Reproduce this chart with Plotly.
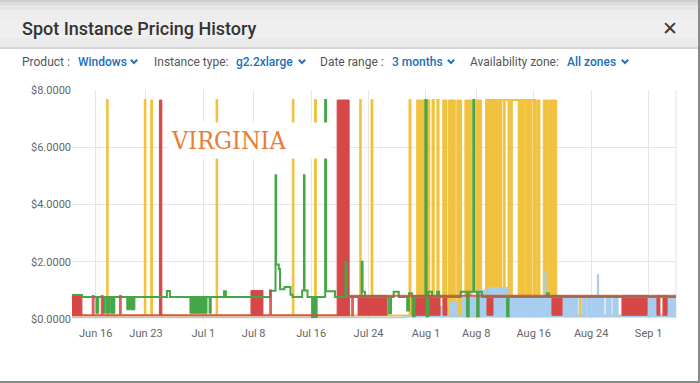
import plotly.graph_objects as go

# ---------------- data ----------------
X_RANGE = ["2018-06-12 16:45", "2018-09-04 19:40"]
TICK_VALS = ["2018-06-16", "2018-06-23", "2018-07-01", "2018-07-08", "2018-07-16", "2018-07-24",
             "2018-08-01", "2018-08-08", "2018-08-16", "2018-08-24", "2018-09-01"]
TICK_TEXT = ["Jun 16", "Jun 23", "Jul 1", "Jul 8", "Jul 16", "Jul 24",
             "Aug 1", "Aug 8", "Aug 16", "Aug 24", "Sep 1"]
Y_TICKS = [0, 2, 4, 6, 8]
Y_TICK_TEXT = ["$0.0000", "$2.0000", "$4.0000", "$6.0000", "$8.0000"]

# yellow zone
YEL_T = ["2018-06-12 16:00",
         "2018-06-17 14:00", "2018-06-17 16:00",
         "2018-06-22 20:00", "2018-06-22 22:00",
         "2018-07-02 20:00", "2018-07-02 22:00",
         "2018-07-13 11:00", "2018-07-13 13:00",
         "2018-07-16 13:00", "2018-07-16 16:00",
         "2018-07-22 20:00", "2018-07-22 22:00",
         "2018-07-24 10:00", "2018-07-24 13:00",
         "2018-07-29 17:00", "2018-07-29 20:00",
         "2018-08-01 22:00", "2018-08-02 02:00",
         "2018-08-02 14:00", "2018-08-02 18:00",
         "2018-08-09 09:00",
         "2018-08-10 18:00", "2018-08-10 20:00",
         "2018-08-11 02:00", "2018-08-11 04:00",
         "2018-08-11 10:00", "2018-08-11 12:00",
         "2018-08-11 21:00", "2018-08-11 23:00",
         "2018-08-12 12:00", "2018-08-12 14:00",
         "2018-08-12 21:00", "2018-08-12 23:00",
         "2018-08-16 05:00",
         "2018-08-22 11:00", "2018-08-22 13:00",
         "2018-09-04 20:00"]
YEL_V = [0.12,
         7.65, 0.12,
         7.65, 0.12,
         7.65, 0.12,
         7.65, 0.12,
         7.65, 0.12,
         7.65, 0.12,
         7.65, 0.12,
         7.65, 0.12,
         7.65, 0.12,
         7.65, 0.12,
         7.65,
         0.12, 7.65,
         0.12, 7.65,
         0.12, 7.65,
         0.12, 7.65,
         0.12, 7.65,
         0.12, 7.65,
         0.12,
         0.80, 0.12,
         0.12]
YEL_BLOCKS = [("2018-06-23 16:00", "2018-06-23 22:00", 0.12, 7.65),
              ("2018-07-30 17:00", "2018-07-31 20:00", 0.12, 7.65),
              ("2018-08-01 02:00", "2018-08-01 13:00", 0.12, 7.65),
              ("2018-08-03 08:00", "2018-08-03 22:00", 0.12, 7.65),
              ("2018-08-04 03:00", "2018-08-05 02:00", 0.12, 7.65),
              ("2018-08-05 07:00", "2018-08-05 23:00", 0.12, 7.65),
              ("2018-08-06 10:00", "2018-08-07 09:00", 0.12, 7.65),
              ("2018-08-08 01:00", "2018-08-08 18:00", 0.12, 7.65),
              ("2018-08-09 09:00", "2018-08-10 15:00", 0.12, 7.65),
              ("2018-08-13 20:00", "2018-08-14 20:00", 0.12, 7.65),
              ("2018-08-15 00:00", "2018-08-15 18:00", 0.12, 7.65),
              ("2018-08-15 22:00", "2018-08-16 05:00", 0.12, 7.65),
              ("2018-08-16 10:00", "2018-08-16 21:00", 0.12, 7.65),
              ("2018-08-17 08:00", "2018-08-18 01:00", 0.12, 7.65),
              ("2018-08-18 05:00", "2018-08-19 05:00", 0.12, 7.65)]

# light-blue zone
BLU_T = ["2018-06-12 16:00", "2018-07-29 00:00",
         "2018-08-17 14:00", "2018-08-17 16:00",
         "2018-08-24 22:00", "2018-08-25 00:00",
         "2018-09-04 20:00"]
BLU_V = [0.05, 0.08,
         1.66, 0.08,
         1.54, 0.08,
         0.08]
BLU_BLOCKS = [("2018-08-02 23:00", "2018-08-03 22:00", 0.08, 0.45),
              ("2018-08-04 08:00", "2018-08-05 08:00", 0.08, 0.60),
              ("2018-08-06 01:00", "2018-08-07 22:00", 0.08, 0.80),
              ("2018-08-08 03:00", "2018-08-09 09:00", 0.08, 1.00),
              ("2018-08-09 15:00", "2018-08-12 10:00", 0.08, 1.10),
              ("2018-08-12 10:00", "2018-08-15 10:00", 0.08, 0.82),
              ("2018-08-15 10:00", "2018-08-18 13:00", 0.08, 0.80),
              ("2018-08-20 02:00", "2018-08-22 04:00", 0.08, 0.82),
              ("2018-08-22 18:00", "2018-08-23 07:00", 0.08, 0.82),
              ("2018-08-23 10:00", "2018-08-24 00:00", 0.08, 0.82),
              ("2018-08-24 03:00", "2018-08-24 20:00", 0.08, 0.82),
              ("2018-08-25 03:00", "2018-08-25 19:00", 0.08, 0.82),
              ("2018-08-26 02:00", "2018-08-26 19:00", 0.08, 0.82),
              ("2018-08-27 01:00", "2018-08-27 18:00", 0.08, 0.82),
              ("2018-08-31 19:00", "2018-09-02 04:00", 0.08, 0.80),
              ("2018-09-03 14:00", "2018-09-04 20:00", 0.08, 0.75)]

# red zone
RED_T = ["2018-06-12 16:00",
         "2018-06-15 14:00", "2018-06-15 17:00",
         "2018-06-16 20:00", "2018-06-16 23:00",
         "2018-06-19 09:00", "2018-06-19 12:00",
         "2018-07-10 07:00", "2018-07-10 10:00",
         "2018-07-21 07:00",
         "2018-07-21 17:00", "2018-07-21 20:00",
         "2018-09-04 20:00"]
RED_V = [0.13,
         0.80, 0.13,
         0.80, 0.13,
         0.80, 0.13,
         1.00, 0.13,
         0.81,
         0.13, 0.81,
         0.81]
RED_BLOCKS = [("2018-06-12 16:00", "2018-06-14 02:00", 0.13, 0.85),
              ("2018-06-24 21:00", "2018-06-25 05:00", 0.13, 7.65),
              ("2018-07-07 15:00", "2018-07-09 07:00", 0.13, 1.00),
              ("2018-07-19 15:00", "2018-07-21 07:00", 0.13, 7.65),
              ("2018-07-22 13:00", "2018-07-26 14:00", 0.13, 0.81),
              ("2018-07-30 01:00", "2018-08-02 23:00", 0.13, 0.81),
              ("2018-08-03 09:00", "2018-08-03 22:00", 0.13, 0.81),
              ("2018-08-09 12:00", "2018-08-10 08:00", 0.13, 0.81),
              ("2018-08-18 13:00", "2018-08-19 23:00", 0.13, 0.81),
              ("2018-08-28 07:00", "2018-08-31 19:00", 0.13, 0.81),
              ("2018-09-02 04:00", "2018-09-02 14:00", 0.13, 0.81),
              ("2018-09-03 00:00", "2018-09-03 14:00", 0.13, 0.81)]

# green zone
GRN_T = ["2018-06-12 16:00", "2018-06-14 02:00",
         "2018-06-25 22:00", "2018-06-26 08:00",
         "2018-07-03 21:00", "2018-07-04 03:00",
         "2018-07-10 07:00", "2018-07-11 01:00", "2018-07-11 03:00", "2018-07-11 12:00",
         "2018-07-11 16:00", "2018-07-12 07:00", "2018-07-13 03:00", "2018-07-13 10:00",
         "2018-07-14 18:00", "2018-07-15 00:00", "2018-07-15 02:00", "2018-07-15 12:00",
         "2018-07-17 23:00", "2018-07-18 02:00", "2018-07-19 08:00",
         "2018-07-20 19:00", "2018-07-20 22:00",
         "2018-07-23 01:00", "2018-07-23 04:00", "2018-07-23 12:00",
         "2018-07-26 20:00", "2018-07-27 03:00",
         "2018-07-27 12:00", "2018-07-28 05:00",
         "2018-07-29 09:00", "2018-07-29 15:00", "2018-07-30 01:00",
         "2018-07-30 05:00", "2018-07-30 10:00",
         "2018-07-31 22:00", "2018-08-01 02:00", "2018-08-01 08:00", "2018-08-01 20:00",
         "2018-08-02 13:00", "2018-08-02 20:00",
         "2018-08-05 20:00", "2018-08-06 17:00", "2018-08-06 23:00",
         "2018-08-07 14:00", "2018-08-07 18:00", "2018-08-08 03:00", "2018-08-08 08:00",
         "2018-08-08 19:00",
         "2018-08-12 07:00", "2018-08-12 12:00",
         "2018-08-17 20:00", "2018-08-18 02:00",
         "2018-09-04 20:00"]
GRN_V = [0.84, 0.77,
         0.98, 0.77,
         0.97, 0.77,
         0.99, 5.02, 1.90, 1.75,
         1.04, 1.12, 0.85, 0.77,
         1.00, 5.02, 1.00, 0.77,
         7.65, 0.97, 0.77,
         2.00, 0.77,
         2.00, 0.95, 0.77,
         0.20, 0.77,
         0.95, 0.77,
         0.30, 0.90, 0.77,
         0.10, 0.77,
         7.65, 0.10, 0.95, 0.77,
         0.95, 0.77,
         0.95, 0.10, 0.95,
         7.65, 0.95, 0.10, 0.95,
         0.77,
         0.10, 0.77,
         0.90, 0.77,
         0.77]
GRN_BLOCKS = [("2018-06-16 01:00", "2018-06-16 10:00", 0.20, 0.77),
              ("2018-06-17 00:00", "2018-06-17 08:00", 0.20, 0.77),
              ("2018-06-17 12:00", "2018-06-17 22:00", 0.20, 0.77),
              ("2018-06-18 02:00", "2018-06-18 16:00", 0.20, 0.77),
              ("2018-06-20 08:00", "2018-06-21 11:00", 0.32, 0.77),
              ("2018-06-29 03:00", "2018-07-01 12:00", 0.20, 0.77),
              ("2018-07-01 19:00", "2018-07-02 02:00", 0.20, 0.77),
              ("2018-07-16 02:00", "2018-07-16 20:00", 0.05, 0.77)]

ANNOT_TEXT = "VIRGINIA"

# ---------------- styling ----------------
C_RED = "#d64848"
C_GRN = "#45a748"
C_YEL = "#f1c23e"
C_BLU = "#a8cdee"

W, H = 700, 383
ML, MR, MT, MB = 72, 24, 90, 64


def px(x):
    return (x - ML) / (W - ML - MR)


def py(y):
    return (H - MB - y) / (H - MT - MB)


def band_xy(blocks):
    xs, ys = [], []
    for s, e, lo, hi in blocks:
        xs += [s, e, e, s, s, None]
        ys += [lo, lo, hi, hi, lo, None]
    return xs, ys


fig = go.Figure()


def add_blocks(blocks, color):
    bx, by = band_xy(blocks)
    fig.add_trace(go.Scatter(x=bx, y=by, mode="lines", fill="toself", fillcolor=color,
                             line=dict(color=color, width=1), hoverinfo="skip"))


def add_line(t, v, color, width, opacity=1.0):
    fig.add_trace(go.Scatter(x=t, y=v, mode="lines", opacity=opacity,
                             line=dict(color=color, width=width, shape="hv"), hoverinfo="skip"))


add_blocks(YEL_BLOCKS, C_YEL)
add_line(YEL_T, YEL_V, C_YEL, 2)
add_blocks(BLU_BLOCKS, C_BLU)
add_line(BLU_T, BLU_V, C_BLU, 1.6)
add_blocks(RED_BLOCKS, C_RED)
add_blocks(GRN_BLOCKS, C_GRN)
add_line(GRN_T, GRN_V, C_GRN, 2)
add_line(RED_T, RED_V, C_RED, 2, opacity=0.85)

shapes = []
# header gradient (stacked strips)
strips = [(0, 2, "#cfcfcf"), (2, 5, "#dcdcdc"), (5, 10, "#e6e6e6"), (10, 20, "#ededed"),
          (20, 38, "#efefef"), (38, 47, "#eaeaea"), (47, 49, "#d6d6d6")]
for y0, y1, c in strips:
    shapes.append(dict(type="rect", xref="paper", yref="paper", x0=px(0), x1=px(W),
                       y0=py(y1), y1=py(y0), fillcolor=c, line=dict(width=0), layer="below"))
# dialog borders
shapes.append(dict(type="rect", xref="paper", yref="paper", x0=px(698), x1=px(700),
                   y0=py(383), y1=py(0), fillcolor="#8a8a8a", line=dict(width=0)))
shapes.append(dict(type="rect", xref="paper", yref="paper", x0=px(0), x1=px(700),
                   y0=py(383), y1=py(381), fillcolor="#8a8a8a", line=dict(width=0)))
# plot right border
shapes.append(dict(type="line", xref="paper", yref="paper", x0=1, x1=1, y0=0, y1=1,
                   line=dict(color="#e3e3e3", width=1), layer="below"))
# chevrons
for cx in [134, 302, 451, 625]:
    path = "M {},{} L {},{} L {},{}".format(px(cx - 3.2), py(59.8), px(cx), py(63.0), px(cx + 3.2), py(59.8))
    shapes.append(dict(type="path", xref="paper", yref="paper", path=path,
                       line=dict(color="#2a72b8", width=2)))

annotations = []
annotations.append(dict(text="Spot Instance Pricing History", x=px(20), y=py(28), xref="paper", yref="paper",
                        xanchor="left", yanchor="middle", showarrow=False,
                        font=dict(family="Roboto", size=18, color="#333333", weight=500)))
annotations.append(dict(text="✕", x=px(670), y=py(28), xref="paper", yref="paper",
                        xanchor="center", yanchor="middle", showarrow=False,
                        font=dict(family="DejaVu Sans", size=19, color="#3a3a3a", weight=700)))
filters = [(20, "Product :", False), (76, "Windows", True), (152, "Instance type:", False),
           (234, "g2.2xlarge", True), (318, "Date range :", False), (390, "3 months", True),
           (468, "Availability zone:", False), (565, "All zones", True)]
for x0, txt, bold in filters:
    annotations.append(dict(text=txt, x=px(x0), y=py(62), xref="paper", yref="paper",
                            xanchor="left", yanchor="middle", showarrow=False,
                            font=dict(family="Roboto", size=12,
                                      color="#2170b8" if bold else "#555555",
                                      weight=500 if bold else 400)))
annotations.append(dict(text=ANNOT_TEXT, x=px(167), y=py(140.5), xref="paper", yref="paper",
                        xanchor="left", yanchor="middle", showarrow=False, align="left",
                        width=158, height=29, borderpad=3, bgcolor="#ffffff",
                        font=dict(family="DejaVu Serif Condensed, DejaVu Serif, serif", size=25,
                                  color="#ea7d33")))

fig.update_layout(
    width=W, height=H,
    margin=dict(l=ML, r=MR, t=MT, b=MB),
    paper_bgcolor="#ffffff", plot_bgcolor="#ffffff",
    showlegend=False,
    shapes=shapes, annotations=annotations,
    xaxis=dict(type="date", range=X_RANGE, tickvals=TICK_VALS, ticktext=TICK_TEXT,
               showgrid=True, gridcolor="#e6e6e6", gridwidth=1, zeroline=False, showline=False,
               ticks="", ticklabelstandoff=6,
               tickfont=dict(family="Roboto", size=11, color="#666666"), fixedrange=True),
    yaxis=dict(range=[0, 8], tickvals=Y_TICKS, ticktext=Y_TICK_TEXT,
               showgrid=True, gridcolor="#e6e6e6", gridwidth=1, zeroline=False, showline=False,
               ticks="", tickfont=dict(family="Roboto", size=11, color="#666666"), fixedrange=True),
)

fig.write_html("out.html")
